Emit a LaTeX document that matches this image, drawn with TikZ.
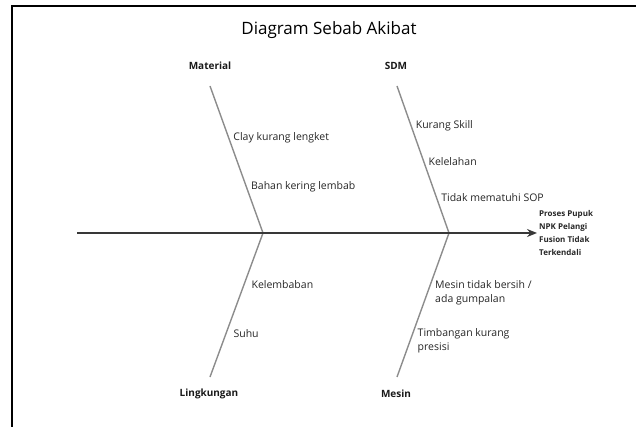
\documentclass[tikz,border=0pt]{standalone}
\usepackage{fontspec}
\setmainfont{Open Sans}
\usetikzlibrary{arrows.meta}

\begin{document}
\begin{tikzpicture}[x=1pt,y=-1pt,
  spine/.style={line width=2pt,draw=black!78,-{Stealth[length=10pt,width=8pt]}},
  bone/.style={line width=1.4pt,draw=black!45},
  causelabel/.style={anchor=west,inner sep=0pt,xshift=4pt,align=left,text=black!85,font=\fontsize{10.5}{14}\selectfont},
  catlabel/.style={inner sep=1pt,text=black!90,font=\fontsize{10}{12}\selectfont\bfseries}]
  \useasboundingbox (0,0) rectangle (636,427);
  \draw[line width=2pt] (12,427) -- (12,6) -- (636,6);
  \node[font=\fontsize{17}{20}\selectfont] (title) at (329,30) {Diagram Sebab Akibat};
  \node[catlabel] (mat) at (210,66) {Material};
  \node[catlabel] (sdm) at (396,66) {SDM};
  \node[catlabel] (lin) at (209,394) {Lingkungan};
  \node[catlabel] (mes) at (396,394) {Mesin};
  \coordinate (tail) at (77,233);
  \coordinate (j1) at (263,233);
  \coordinate (j2) at (449,233);
  \coordinate (matend) at (210,86);
  \coordinate (sdmend) at (397,86);
  \coordinate (linend) at (210,377);
  \coordinate (mesend) at (397,377);
  \node[anchor=west,inner sep=2pt,align=left,text=black!85,font=\fontsize{8}{13}\selectfont\bfseries] (effect) at (537,233) {Proses Pupuk\\NPK Pelangi\\Fusion Tidak\\Terkendali};
  \draw[bone] (matend) -- node[causelabel,pos=0.354] (c1) {Clay kurang lengket}
    node[causelabel,pos=0.687] (c2) {Bahan kering lembab} (j1);
  \draw[bone] (sdmend) -- node[causelabel,pos=0.272] (c3) {Kurang Skill}
    node[causelabel,pos=0.517] (c4) {Kelelahan}
    node[causelabel,pos=0.762] (c5) {Tidak mematuhi SOP} (j2);
  \draw[bone] (j1) -- node[causelabel,xshift=3pt,pos=0.361] (c6) {Kelembaban}
    node[causelabel,xshift=3pt,pos=0.701] (c7) {Suhu} (linend);
  \draw[bone] (j2) -- node[causelabel,xshift=3pt,pos=0.413] (c8) {Mesin tidak bersih /\\ada gumpalan}
    node[causelabel,xshift=3pt,pos=0.75] (c9) {Timbangan kurang\\presisi} (mesend);
  \draw[spine] (tail) -- (effect);
\end{tikzpicture}
\end{document}
